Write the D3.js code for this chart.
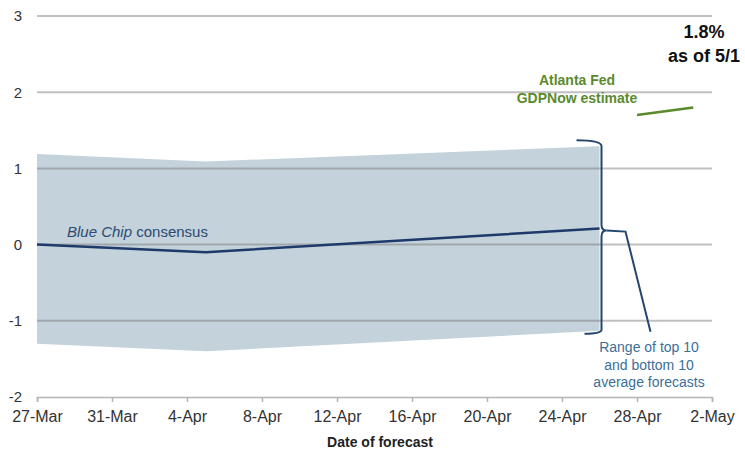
<!DOCTYPE html>
<html>
<head>
<meta charset="utf-8">
<script src="https://cdn.jsdelivr.net/npm/d3@7/dist/d3.min.js"></script>
<style>
  html, body { margin: 0; padding: 0; background: #fff; }
  svg { display: block; font-family: "Liberation Sans", Arial, sans-serif; }
</style>
</head>
<body>
<svg id="chart" width="745" height="456"></svg>
<script>
// ---- Data ----
const consensusDates = ["2017-03-27", "2017-04-05", "2017-04-26"];
const consensusValues = [0.0, -0.1, 0.21];
const rangeTop = [1.19, 1.09, 1.29];
const rangeBottom = [-1.30, -1.40, -1.13];
const gdpNowDates = ["2017-04-28", "2017-05-01"];
const gdpNowValues = [1.7, 1.8];
const xTickLabels = ["27-Mar", "31-Mar", "4-Apr", "8-Apr", "12-Apr", "16-Apr", "20-Apr", "24-Apr", "28-Apr", "2-May"];
const yTicks = [3, 2, 1, 0, -1, -2];
const rangeLabel = ["Range of top 10", "and bottom 10", "average forecasts"];
const gdpLabel = ["Atlanta Fed", "GDPNow estimate"];
const latestLabel = ["1.8%", "as of 5/1"];

const parse = d3.timeParse("%Y-%m-%d");
const parseTick = d3.timeParse("%d-%b-%Y");
const tickDates = xTickLabels.map(s => parseTick(s + "-2017"));

const svg = d3.select("#chart");
const x = d3.scaleTime().domain([tickDates[0], tickDates[tickDates.length - 1]]).range([37, 712]);
const y = d3.scaleLinear().domain([-2, 3]).range([397, 16]);

const band = consensusDates.map((d, i) => ({ date: parse(d), top: rangeTop[i], bottom: rangeBottom[i], v: consensusValues[i] }));
const gdp = gdpNowDates.map((d, i) => ({ date: parse(d), v: gdpNowValues[i] }));

// Band
svg.append("path")
  .datum(band)
  .attr("fill", "#c4d2db")
  .attr("d", d3.area().x(d => x(d.date)).y0(d => y(d.bottom)).y1(d => y(d.top)));

// Gridlines
svg.append("g").selectAll("line")
  .data(yTicks.filter(t => t > -2))
  .join("line")
  .attr("x1", 37).attr("x2", 712)
  .attr("y1", d => y(d)).attr("y2", d => y(d))
  .attr("stroke", "rgb(115,115,115)")
  .attr("stroke-opacity", 0.45)
  .attr("stroke-width", 2);

// X axis
const xAxis = d3.axisBottom(x)
  .tickValues(tickDates)
  .tickFormat((d, i) => xTickLabels[i])
  .tickSize(5)
  .tickPadding(9);
const gx = svg.append("g").attr("transform", `translate(0,${y(-2)})`).call(xAxis);
gx.select(".domain").attr("stroke", "#b5b5b5").attr("stroke-width", 1.5);
gx.selectAll(".tick line").attr("stroke", "#b5b5b5").attr("stroke-width", 1.5);
gx.selectAll(".tick text")
  .attr("font-size", 16)
  .attr("fill", "#333")
  .attr("font-family", "'Liberation Sans', Arial, sans-serif");

// Y labels
const yAxis = d3.axisLeft(y).tickValues(yTicks).tickSize(0).tickPadding(0).tickFormat(d3.format("d"));
const gy = svg.append("g").attr("transform", "translate(22,0)").call(yAxis);
gy.select(".domain").remove();
gy.selectAll(".tick text")
  .attr("font-size", 15)
  .attr("fill", "#333")
  .attr("font-family", "'Liberation Sans', Arial, sans-serif")
  .text(d => d < 0 ? "-" + Math.abs(d) : d);

// Axis title
svg.append("text")
  .attr("x", 380).attr("y", 447)
  .attr("text-anchor", "middle")
  .attr("font-weight", "bold")
  .attr("font-size", 14)
  .attr("fill", "#222")
  .text("Date of forecast");

// Consensus line
svg.append("path")
  .datum(band)
  .attr("fill", "none")
  .attr("stroke", "#1d3a6b")
  .attr("stroke-width", 2.5)
  .attr("d", d3.line().x(d => x(d.date)).y(d => y(d.v)));

// Consensus label
const cl = svg.append("text")
  .attr("x", x(band[0].date) + 30).attr("y", y(0) - 8)
  .attr("font-size", 15)
  .attr("fill", "#2a4b6f");
cl.append("tspan").attr("font-style", "italic").text("Blue Chip");
cl.append("tspan").text(" consensus");

// GDPNow line
svg.append("path")
  .datum(gdp)
  .attr("fill", "none")
  .attr("stroke", "#5a8a2a")
  .attr("stroke-width", 2.5)
  .attr("d", d3.line().x(d => x(d.date)).y(d => y(d.v)));

// GDPNow label
svg.append("g").selectAll("text")
  .data(gdpLabel)
  .join("text")
  .attr("x", 577)
  .attr("y", (d, i) => 85 + i * 18)
  .attr("text-anchor", "middle")
  .attr("font-weight", "bold")
  .attr("font-size", 14)
  .attr("fill", "#5b8a2d")
  .text(d => d);

// Latest value label
svg.append("g").selectAll("text")
  .data(latestLabel)
  .join("text")
  .attr("x", 704)
  .attr("y", (d, i) => 38 + i * 24)
  .attr("text-anchor", "middle")
  .attr("font-weight", "bold")
  .attr("font-size", 18)
  .attr("fill", "#111")
  .text(d => d);

// Brace on right of band
const last = band[band.length - 1];
const bx = x(last.date) + 2;
const yTop = y(last.top) - 6;
const yBot = y(last.bottom) + 3;
const yMid = y(last.v) + 2;
const braceColor = "#25466f";
const brace = d3.path();
brace.moveTo(bx - 25, yTop);
brace.quadraticCurveTo(bx, yTop, bx, yTop + 6);
brace.lineTo(bx, yMid - 6);
brace.quadraticCurveTo(bx, yMid, bx + 5, yMid);
brace.quadraticCurveTo(bx, yMid, bx, yMid + 6);
brace.lineTo(bx, yBot - 4);
brace.quadraticCurveTo(bx, yBot, bx - 17, yBot);
svg.append("path")
  .attr("d", brace.toString())
  .attr("fill", "none")
  .attr("stroke", braceColor)
  .attr("stroke-width", 2);

// Leader line
const leader = d3.path();
leader.moveTo(bx + 5, yMid);
leader.lineTo(bx + 24, yMid + 1);
leader.lineTo(bx + 49, yBot - 2);
svg.append("path")
  .attr("d", leader.toString())
  .attr("fill", "none")
  .attr("stroke", braceColor)
  .attr("stroke-width", 2);

// Range label
svg.append("g").selectAll("text")
  .data(rangeLabel)
  .join("text")
  .attr("x", 649)
  .attr("y", (d, i) => 352 + i * 17.5)
  .attr("text-anchor", "middle")
  .attr("font-size", 14)
  .attr("fill", "#3b6f97")
  .text(d => d);
</script>
</body>
</html>
